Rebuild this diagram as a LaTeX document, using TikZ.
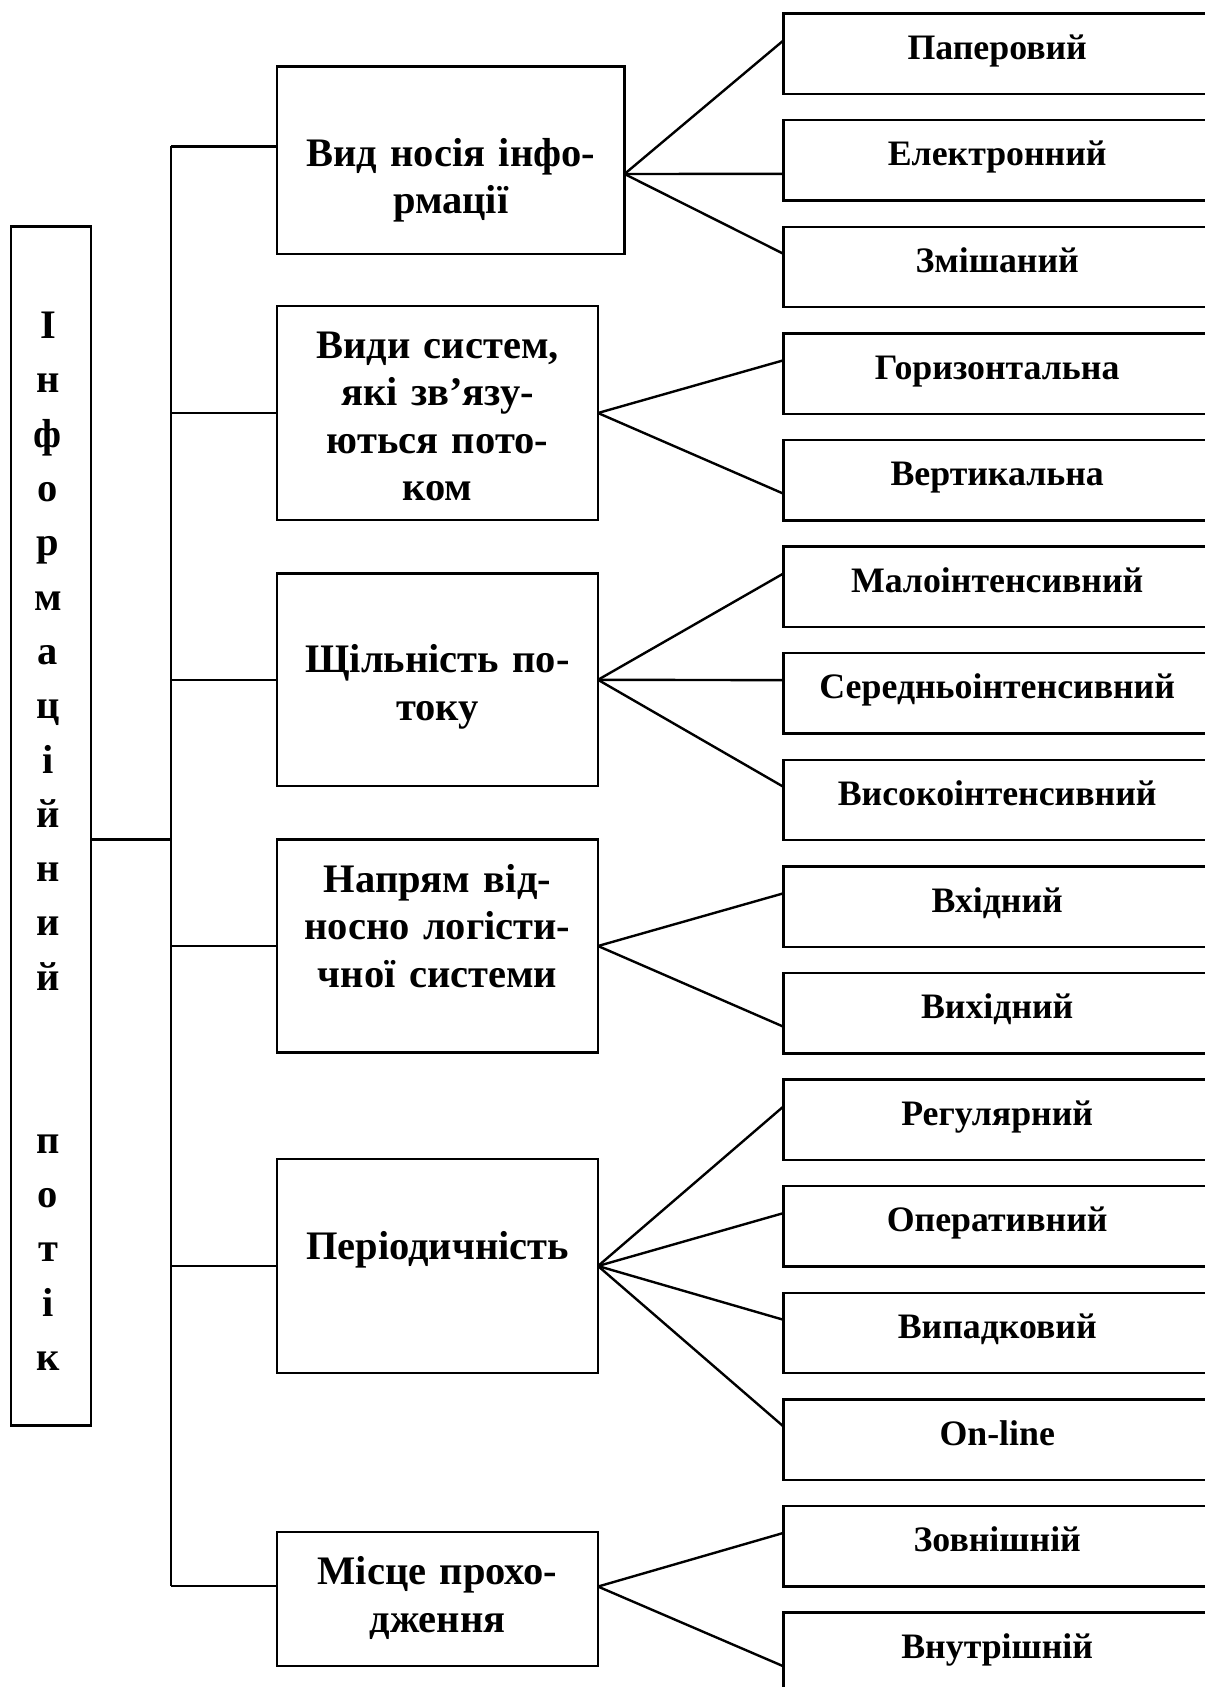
\documentclass[tikz,border=0pt]{standalone}
\usepackage{fontspec}
\setmainfont{Liberation Serif}
\usetikzlibrary{calc}
\begin{document}
\begin{tikzpicture}[x=1pt,y=-1pt,line width=2.4pt,
  box/.style={draw,rectangle,inner sep=0pt,outer sep=0pt},
  midtext/.style={font=\bfseries\fontsize{40.5}{47.5}\selectfont,align=center,inner sep=0pt,anchor=base},
  coltext/.style={font=\bfseries\fontsize{40.5}{54.3}\selectfont,align=center,inner sep=0pt,anchor=base,text width=60pt},
  leaftext/.style={font=\bfseries\fontsize{35.8}{40}\selectfont,inner sep=0pt,anchor=base},
  leafbox/.style={box,minimum width=427.7pt,minimum height=80.4pt},
  link/.style={line cap=butt}]
\useasboundingbox (0,0) rectangle (1205,1687);
\clip (0,0) rectangle (1205,1687);

% root column
\node[box,minimum width=80pt,minimum height=1199.3pt] (root) at (51,826) {};
\node[coltext] (roottext) at (48,338.6) {І\\н\\ф\\о\\р\\м\\а\\ц\\і\\й\\н\\и\\й\\[108.6pt]п\\о\\т\\і\\к};

% second level
\node[box,minimum width=347.5pt,minimum height=187.6pt] (b1) at (450.75,160.2) {};
\node[midtext,text width=340pt] at (450.75,166) {Вид носія інфо-\\рмації};
\node[box,minimum width=321pt,minimum height=214pt] (b2) at (437.5,413) {};
\node[midtext,text width=314pt] at (437.5,358) {Види систем,\\які зв’язу-\\ються пото-\\ком};
\node[box,minimum width=321pt,minimum height=212.8pt] (b3) at (437.5,679.8) {};
\node[midtext,text width=314pt] at (437.5,672.6) {Щільність по-\\току};
\node[box,minimum width=321pt,minimum height=212.8pt] (b4) at (437.5,946) {};
\node[midtext,text width=314pt] at (437.5,892) {Напрям від-\\носно логісти-\\чної системи};
\node[box,minimum width=321pt,minimum height=214pt] (b5) at (437.5,1266) {};
\node[midtext,text width=314pt] at (437.5,1259) {Періодичність};
\node[box,minimum width=321pt,minimum height=134pt] (b6) at (437.5,1599) {};
\node[midtext,text width=314pt] at (437.5,1584.8) {Місце прохо-\\дження};

% third level
\foreach \t [count=\i from 0] in {Паперовий,Електронний,Змішаний,Горизонтальна,Вертикальна,Малоінтенсивний,Середньоінтенсивний,Високоінтенсивний,Вхідний,Вихідний,Регулярний,Оперативний,Випадковий,On-line,Зовнішній,Внутрішній}{
  \node[leafbox] (r\i) at (997.2,{53.8+106.6*\i}) {};
  \node[leaftext] at (997.2,{59.2+106.6*\i}) {\t};
}

% trunk and branches
\coordinate (t1) at (171,146.4);
\coordinate (t6) at (171,1586);
\coordinate (tm) at (171,839.5);
\draw[link] (t1) -- (t6);
\draw[link] (root.east |- tm) -- (tm);
\draw[link] (t1) -- (t1 -| b1.west);
\draw[link] (b2.west -| t1) -- (b2.west);
\draw[link] (b3.west -| t1) -- (b3.west);
\draw[link] (b4.west -| t1) -- (b4.west);
\draw[link] (b5.west -| t1) -- (b5.west);
\draw[link] (t6) -- (t6 -| b6.west);

% fan origins
\coordinate (f1) at ($(b1.north east)!0.5736!(b1.south east)$);
\coordinate (f2) at (b2.east);
\coordinate (f3) at (b3.east);
\coordinate (f4) at (b4.east);
\coordinate (f5) at (b5.east);
\coordinate (f6) at ($(b6.north east)!0.407!(b6.south east)$);

\newcommand\fanto[3]{\draw[link] (#1) -- ($(#2.north west)!#3!(#2.south west)$);}
\fanto{f1}{r0}{0.335}
\fanto{f1}{r1}{0.667}
\fanto{f1}{r2}{0.335}
\fanto{f2}{r3}{0.335}
\fanto{f2}{r4}{0.667}
\fanto{f3}{r5}{0.335}
\fanto{f3}{r6}{0.335}
\fanto{f3}{r7}{0.335}
\fanto{f4}{r8}{0.335}
\fanto{f4}{r9}{0.667}
\fanto{f5}{r10}{0.335}
\fanto{f5}{r11}{0.335}
\fanto{f5}{r12}{0.335}
\fanto{f5}{r13}{0.335}
\fanto{f6}{r14}{0.335}
\fanto{f6}{r15}{0.667}
\end{tikzpicture}
\end{document}
